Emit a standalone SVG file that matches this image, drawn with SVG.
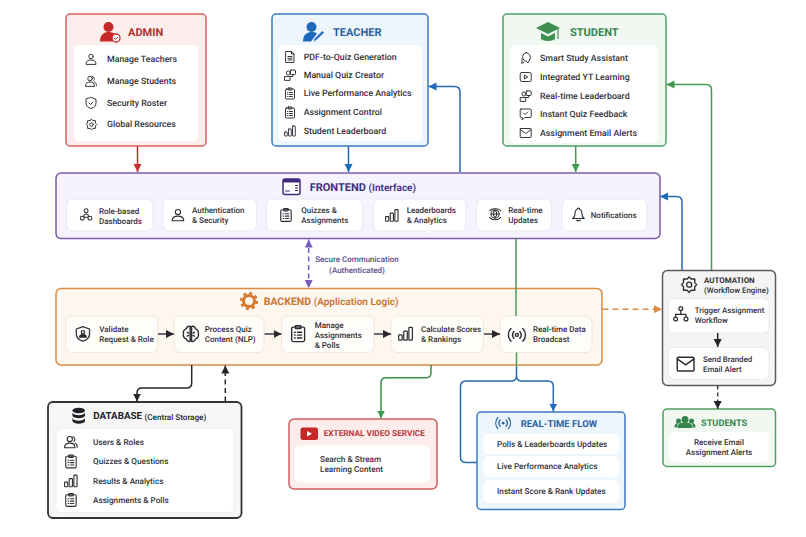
<svg xmlns="http://www.w3.org/2000/svg" width="806" height="537" viewBox="0 0 806 537">
<style>
text{font-family:"Roboto","Noto Sans","Liberation Sans",sans-serif;font-size:8.800px;fill:#2f2f37;dominant-baseline:central;font-weight:500;text-rendering:geometricPrecision;transform:translateY(.8px)}
.t{font-size:11px;font-weight:700}
.s{font-size:8px}
.d{font-size:8.200px}
.sm{font-size:7.900px}
.w{fill:#fff;stroke:none}
.c{fill:#fff;stroke:#ece8f2;stroke-width:1}
.co{fill:#fffdfa;stroke:#f3e6d6;stroke-width:1}
.box{stroke-width:1.500}
.i{fill:none;stroke:#2c2c33;stroke-width:1.900;stroke-linecap:round;stroke-linejoin:round}
.l{fill:none;stroke-width:1.500;stroke-linejoin:round}
</style>
<defs>
<marker id="mr" markerUnits="userSpaceOnUse" markerWidth="10" markerHeight="9" refX="8" refY="4" orient="auto"><path d="M0 0L8 4L0 8Z" fill="#c62f2f"/></marker>
<marker id="mb" markerUnits="userSpaceOnUse" markerWidth="10" markerHeight="9" refX="8" refY="4" orient="auto"><path d="M0 0L8 4L0 8Z" fill="#1f69bb"/></marker>
<marker id="mg" markerUnits="userSpaceOnUse" markerWidth="10" markerHeight="9" refX="8" refY="4" orient="auto"><path d="M0 0L8 4L0 8Z" fill="#3f9b4d"/></marker>
<marker id="mk" markerUnits="userSpaceOnUse" markerWidth="10" markerHeight="9" refX="8" refY="4" orient="auto"><path d="M0 0L8 4L0 8Z" fill="#26262c"/></marker>
<marker id="mo" markerUnits="userSpaceOnUse" markerWidth="10" markerHeight="9" refX="8" refY="4" orient="auto"><path d="M0 0L8 4L0 8Z" fill="#dd8a44"/></marker>
<marker id="mp" markerUnits="userSpaceOnUse" markerWidth="10" markerHeight="9" refX="8" refY="4" orient="auto-start-reverse"><path d="M0 0L8 4L0 8Z" fill="#7a5cc0"/></marker>
<g id="user"><circle cx="12" cy="7" r="4.500" class="i"/><path class="i" d="M2 22c0-6 4-8 10-8s10 2 10 8z"/></g>
<g id="users"><circle cx="10" cy="7" r="4.500" class="i"/><path class="i" d="M1 22c0-6 3-8 9-8s9 2 9 8z"/><path class="i" d="M15 3a4.500 4.500 0 0 1 2 8M19 14c2 1 4 3 4 7"/></g>
<g id="shield"><path class="i" d="M12 1l10 3.500v7.500c0 6-4 9-10 11-6-2-10-5-10-11V4.500z"/><path class="i" d="M8 12l3 3 5-5"/></g>
<g id="gear"><circle cx="12" cy="12" r="3.500" class="i"/><path class="i" d="M12 1.500l2.800 2.700h5v5L22.500 12l-2.700 2.800v5h-5L12 22.500l-2.800-2.700h-5v-5L1.500 12l2.700-2.800v-5h5z"/></g>
<g id="doc"><path class="i" d="M4 1h11l5 5v17H4z"/><path class="i" d="M15 1v5h5M8 11h8M8 14.500h8M8 18h8"/></g>
<g id="clip"><rect x="3" y="3" width="18" height="20" rx="2" class="i"/><rect x="8" y="1" width="8" height="4" rx="1" class="i"/><path class="i" d="M7 10h1M11 10h6M7 14h1M11 14h6M7 18h1M11 18h6"/></g>
<g id="bars"><rect x="1" y="14" width="5.500" height="8" rx="1" class="i"/><rect x="9" y="8" width="5.500" height="14" rx="1" class="i"/><rect x="17" y="2" width="5.500" height="20" rx="1" class="i"/></g>
<g id="quiz"><rect x="13" y="2" width="10" height="9" rx="1.500" class="i"/><circle cx="8.500" cy="8" r="4" class="i"/><path class="i" d="M1 22v-7h11v7zM12 15h6v-4"/></g>
<g id="bulb"><path class="i" d="M13 1a10 10 0 0 1 7 15l-4 6c-1-3-2-4-5-4A9 9 0 0 1 13 1zM5 14l-1 9 5-3"/></g>
<g id="play"><rect x="1" y="3" width="22" height="18" rx="3" class="i"/><path d="M10 8.500l6 3.500-6 3.500z" class="i"/></g>
<g id="chat"><path class="i" d="M3 1h18a2 2 0 0 1 2 2v13a2 2 0 0 1-2 2H10l-5 5v-5H3a2 2 0 0 1-2-2V3a2 2 0 0 1 2-2z"/><path class="i" d="M8 9l3 3 5-5"/></g>
<g id="mail"><rect x="1" y="3" width="22" height="18" rx="1.500" class="i"/><path class="i" d="M1 5l11 8 11-8"/></g>
<g id="team"><circle cx="12" cy="5" r="3.500" class="i"/><path class="i" d="M8 13c0-3 8-3 8 0v4H8zM5 15a3.500 3.500 0 1 0 0 7 3.500 3.500 0 0 0 0-7zM19 15a3.500 3.500 0 1 0 0 7 3.500 3.500 0 0 0 0-7z"/></g>
<g id="globe"><circle cx="12" cy="11" r="7.500" class="i"/><path class="i" d="M5 11h14M12 4c4 4 4 10 0 14M12 4c-4 4-4 10 0 14M2 17c3 5 16 7 20 0M22 5c-2-4-16-6-20 0"/></g>
<g id="bell"><path class="i" d="M12 1a2 2 0 0 1 2 2c3 1 4 4 4 8 0 4 1 6 4 8H2c3-2 4-4 4-8 0-4 1-7 4-8a2 2 0 0 1 2-2zM9 22c1 1 5 1 6 0"/></g>
<g id="badge"><path class="i" d="M12 1l10 3.500v7.500c0 6-4 9-10 11-6-2-10-5-10-11V4.500z"/><circle cx="12" cy="9.500" r="2.500" class="i"/><path class="i" d="M7 17c0-3 2-4 5-4s5 1 5 4z" style="fill:#2c2c33"/></g>
<g id="brain"><path class="i" d="M11 2C7 1 6 4 6 5 3 6 1 9 2 12c-1 3 1 6 4 7 0 2 3 4 5 3zM13 2c4-1 5 2 5 3 3 1 5 4 4 7 1 3-1 6-4 7 0 2-3 4-5 3z"/><path class="i" d="M7 10l2 1M7 15l2-1M17 10l-2 1M17 15l-2-1"/></g>
<g id="cast"><circle cx="12" cy="12" r="2" class="i"/><path class="i" d="M8 7.500a7 7 0 0 0 0 9M16 7.500a7 7 0 0 1 0 9M4 3.500a12 12 0 0 0 0 17M20 3.500a12 12 0 0 1 0 17"/></g>
<g id="flow"><circle cx="12" cy="4" r="3" class="i"/><circle cx="4" cy="20" r="3" class="i"/><circle cx="20" cy="20" r="3" class="i"/><path class="i" d="M12 7v6M4 17v-4h16v4"/></g>
</defs>

<g id="admin">
<rect class="box" x="66" y="14" width="140" height="132" rx="4" fill="#fdeeee" stroke="#d9605c"/>
<rect class="w" x="74" y="45" width="124" height="96" rx="5"/>
<circle cx="108.500" cy="27" r="5" fill="#c62828"/><path d="M100 41.500c0-7 4-9.500 9-9.500 3 0 5 1 6 2.500a6 6 0 0 0-2 7z" fill="#c62828"/><circle cx="116" cy="38" r="4" fill="#fff" stroke="#c62828" stroke-width="1.300"/><path d="M114 38l1.500 1.500 2.500-2.500" fill="none" stroke="#c62828"/>
<text class="t" x="128" y="32" style="fill:#a93131">ADMIN</text>
<use href="#user" transform="translate(85 53) scale(.5)"/><text x="107" y="59">Manage Teachers</text>
<use href="#users" transform="translate(85 75) scale(.5)"/><text x="107" y="81">Manage Students</text>
<use href="#shield" transform="translate(85 97) scale(.5)"/><text x="107" y="103">Security Roster</text>
<use href="#gear" transform="translate(85.500 118.500) scale(.5)"/><text x="107" y="124.500">Global Resources</text>
</g>

<g id="teacher">
<rect class="box" x="272" y="14" width="156" height="132" rx="4" fill="#edf5fd" stroke="#3b7bbf"/>
<rect class="w" x="278" y="45" width="144" height="96" rx="5"/>
<circle cx="311.500" cy="27" r="5" fill="#1f69bb"/><path d="M303 41.500c0-7 4-9.500 9-9.500 2 0 4 .5 5 1.500l-6 8z" fill="#1f69bb"/><path d="M316 40l-2 1.500.3-2.500 8-8 1.800 1.800z" fill="#1f69bb"/>
<text class="t" x="333" y="32" style="fill:#27619f">TEACHER</text>
<use href="#doc" transform="translate(284 51) scale(.5)"/><text x="303.700" y="57">PDF-to-Quiz Generation</text>
<use href="#quiz" transform="translate(284 69) scale(.5)"/><text x="303.700" y="75">Manual Quiz Creator</text>
<use href="#clip" transform="translate(284 87.500) scale(.5)"/><text x="303.700" y="93.500">Live Performance Analytics</text>
<use href="#clip" transform="translate(284 106.500) scale(.5)"/><text x="303.700" y="112.500">Assignment Control</text>
<use href="#bars" transform="translate(284 125) scale(.5)"/><text x="303.700" y="131">Student Leaderboard</text>
</g>

<g id="student">
<rect class="box" x="503" y="14" width="163" height="132" rx="4" fill="#f0f8f1" stroke="#4f9f5f"/>
<rect class="w" x="510" y="45" width="148" height="98" rx="5"/>
<path d="M548 22l12 6-12 6-12-6z" fill="#3f8f50"/><path d="M541 33v6c3 2.500 11 2.500 14 0v-6l-7 3.500z" fill="#3f8f50"/><path d="M558 29v10" stroke="#3f8f50" stroke-width="1.200"/>
<text class="t" x="570" y="32" style="fill:#35864a">STUDENT</text>
<use href="#bulb" transform="translate(519.700 52) scale(.5)"/><text x="540" y="58">Smart Study Assistant</text>
<use href="#play" transform="translate(519.700 71) scale(.5)"/><text x="540" y="77">Integrated YT Learning</text>
<use href="#quiz" transform="translate(519.700 90) scale(.5)"/><text x="540" y="96">Real-time Leaderboard</text>
<use href="#chat" transform="translate(519.700 108.500) scale(.5)"/><text x="540" y="114.500">Instant Quiz Feedback</text>
<use href="#mail" transform="translate(519.700 127) scale(.5)"/><text x="540" y="133.500">Assignment Email Alerts</text>
</g>

<g id="frontend">
<rect class="box" x="56" y="173" width="604" height="65.500" rx="5" fill="#f6f2fe" stroke="#7a5ca8"/>
<rect x="283" y="179" width="17" height="15.500" rx="2" fill="#fff" stroke="#3f2a80" stroke-width="1.500"/><rect x="283" y="179" width="17" height="3.500" fill="#3f2a80"/><path d="M295 185.500h3M295 188h3M295 190.500h3M285 191h5" stroke="#3f2a80"/>
<text class="t" x="309.700" y="187" style="fill:#3f2f7d">FRONTEND <tspan font-size="10" font-weight="600">(Interface)</tspan></text>
<rect class="c" x="66.700" y="199" width="86.300" height="32" rx="6"/><use href="#team" transform="translate(79.500 208) scale(.55)"/><text class="s" x="99" y="210.500">Role-based</text><text class="s" x="99" y="220.500">Dashboards</text>
<rect class="c" x="163" y="199" width="93.500" height="32" rx="6"/><use href="#user" transform="translate(171 208) scale(.58)"/><text class="s" x="192" y="209.500">Authentication</text><text class="s" x="192" y="219.500">&amp; Security</text>
<rect class="c" x="266.500" y="199" width="96" height="32" rx="6"/><use href="#clip" transform="translate(279 208) scale(.58)"/><text class="s" x="301.300" y="209.500">Quizzes &amp;</text><text class="s" x="301.300" y="219.500">Assignments</text>
<rect class="c" x="373.500" y="199" width="92.500" height="32" rx="6"/><use href="#bars" transform="translate(385 208.500) scale(.58)"/><text class="s" x="406.700" y="209.500">Leaderboards</text><text class="s" x="406.700" y="219.500">&amp; Analytics</text>
<path d="M425 231h6l-3 3z" fill="#fff"/>
<rect class="c" x="476.700" y="199" width="74.800" height="32" rx="6"/><use href="#globe" transform="translate(488.500 208) scale(.55)"/><text class="s" x="508.300" y="209.500">Real-time</text><text class="s" x="508.300" y="219.500">Updates</text>
<rect class="c" x="562" y="199" width="85" height="32" rx="6"/><use href="#bell" transform="translate(571.500 207.500) scale(.58)"/><text class="s" x="590.700" y="214.700">Notifications</text>
</g>

<g id="secure-label">
<text x="357" y="259" text-anchor="middle" class="s" style="fill:#5a4a8a">Secure Communication</text>
<text x="357" y="270" text-anchor="middle" class="s" style="fill:#5a4a8a">(Authenticated)</text>
</g>

<g id="backend">
<rect class="box" x="56" y="288.500" width="546" height="76.500" rx="5" fill="#fef7ef" stroke="#dd8a44"/>
<circle cx="249" cy="301" r="5.500" fill="none" stroke="#d9782d" stroke-width="3"/><circle cx="249" cy="301" r="7.800" fill="none" stroke="#d9782d" stroke-width="2.600" stroke-dasharray="3 3.130"/>
<text class="t" x="263.700" y="301" style="font-size:10.500px;fill:#c8752f">BACKEND <tspan font-size="10" font-weight="600">(Application Logic)</tspan></text>
<rect class="co" x="65.700" y="316" width="92" height="36.500" rx="6"/><use href="#badge" transform="translate(75 326) scale(.66)"/><text class="s" x="99.300" y="329">Validate</text><text class="s" x="99.300" y="339">Request &amp; Role</text>
<rect class="co" x="174" y="316" width="90" height="36.500" rx="6"/><use href="#brain" transform="translate(182 325) scale(.74)"/><text class="s" x="204.700" y="329">Process Quiz</text><text class="s" x="204.700" y="339">Content (NLP)</text>
<rect class="co" x="281.500" y="316" width="92.500" height="36.500" rx="6"/><use href="#clip" transform="translate(289.500 325) scale(.72)"/><text class="s" x="314.700" y="325">Manage</text><text class="s" x="314.700" y="335">Assignments</text><text class="s" x="314.700" y="345">&amp; Polls</text>
<rect class="co" x="391" y="316" width="92.500" height="36.500" rx="6"/><use href="#bars" transform="translate(398 326) scale(.64)"/><text class="s" x="421" y="329">Calculate Scores</text><text class="s" x="421" y="339">&amp; Rankings</text>
<rect class="co" x="500" y="316" width="92" height="36.500" rx="6"/><use href="#cast" transform="translate(508 326) scale(.74)"/><text class="s" x="533" y="329">Real-time Data</text><text class="s" x="533" y="339">Broadcast</text>
</g>

<g id="automation">
<rect class="box" x="662.500" y="270.500" width="113" height="115" rx="5" fill="#f4f4f4" stroke="#5a5a5f"/>
<use href="#gear" transform="translate(680.500 276) scale(.72)"/>
<text class="sm" x="704" y="280" style="font-weight:700">AUTOMATION</text><text class="sm" x="704" y="290">(Workflow Engine)</text>
<rect class="c" x="668" y="298.700" width="101" height="34.300" rx="6"/><use href="#flow" transform="translate(673 306) scale(.65)"/><text class="sm" x="694.700" y="310">Trigger Assignment</text><text class="sm" x="694.700" y="320">Workflow</text>
<rect class="c" x="668" y="347.500" width="101" height="32" rx="6"/><use href="#mail" transform="translate(676.500 355) scale(.76)"/><text class="sm" x="703" y="359">Send Branded</text><text class="sm" x="703" y="369">Email Alert</text>
</g>

<g id="students">
<rect class="box" x="663" y="409" width="112.500" height="57.500" rx="4" fill="#f0f8f1" stroke="#4f9f5f"/>
<rect class="w" x="669" y="432" width="100" height="30" rx="5"/>
<circle cx="685" cy="419.500" r="3.500" fill="#35864a"/><circle cx="678.500" cy="421" r="2.500" fill="#35864a"/><circle cx="691.500" cy="421" r="2.500" fill="#35864a"/><path d="M677.500 428c0-4.500 3-5.500 7.500-5.500s7.500 1 7.500 5.500zM674.500 427.500c0-3 1-4.500 3.500-4.500l-1 4.500zM695.500 427.500c0-3-1-4.500-3.500-4.500l1 4.500z" fill="#35864a"/>
<text class="t" x="701" y="423" style="font-size:9.200px;fill:#35864a">STUDENTS</text>
<text class="s" x="719" y="441.500" text-anchor="middle">Receive Email</text><text class="s" x="719" y="452" text-anchor="middle">Assignment Alerts</text>
</g>

<g id="realtime-flow">
<rect class="box" x="477" y="412" width="148" height="97.500" rx="4" fill="#edf5fd" stroke="#3b7bbf"/>
<rect class="w" x="483" y="434" width="136" height="20" rx="5"/><rect class="w" x="483" y="456" width="136" height="21" rx="5"/><rect class="w" x="483" y="480" width="136" height="23" rx="5"/>
<g transform="translate(494.500 414.500) scale(.72)"><circle cx="12" cy="12" r="2" fill="#27619f"/><path fill="none" stroke="#27619f" stroke-width="1.800" stroke-linecap="round" d="M8 7.500a7 7 0 0 0 0 9M16 7.500a7 7 0 0 1 0 9M4.500 4.500a12 12 0 0 0 0 15M19.500 4.500a12 12 0 0 1 0 15"/></g>
<text class="t" x="520.700" y="424" style="font-size:9.500px;fill:#27619f">REAL-TIME FLOW</text>
<text class="d" x="497" y="444">Polls &amp; Leaderboards Updates</text>
<text class="d" x="497" y="466.500">Live Performance Analytics</text>
<text class="d" x="497" y="491">Instant Score &amp; Rank Updates</text>
</g>

<g id="database">
<rect x="48" y="402" width="193.500" height="116" rx="5" fill="#f6f6f6" stroke="#333338" stroke-width="1.800"/>
<rect class="w" x="56" y="428.500" width="178" height="84" rx="5" style="stroke:#ececec;stroke-width:.8"/>
<g fill="#1f1f24"><ellipse cx="78.700" cy="410.500" rx="6.300" ry="2.800"/><path d="M72.400 412.500c1 3.500 11.600 3.500 12.600 0v3c-1 3.500-11.600 3.500-12.600 0zM72.400 418c1 3.500 11.600 3.500 12.600 0v3c-1 3.500-11.600 3.500-12.600 0z"/></g>
<text class="t" x="93.300" y="416" style="fill:#222228;font-size:9.800px">DATABASE <tspan font-size="8.100" font-weight="500">(Central Storage)</tspan></text>
<use href="#users" transform="translate(64 435) scale(.58)"/><text class="d" x="93" y="442">Users &amp; Roles</text>
<use href="#clip" transform="translate(64 454.500) scale(.58)"/><text class="d" x="93" y="461.500">Quizzes &amp; Questions</text>
<use href="#bars" transform="translate(64 474) scale(.58)"/><text class="d" x="93" y="481">Results &amp; Analytics</text>
<use href="#clip" transform="translate(64 493) scale(.58)"/><text class="d" x="93" y="500">Assignments &amp; Polls</text>
</g>

<g id="external-video">
<rect class="box" x="289" y="419" width="148" height="70" rx="5" fill="#fcecec" stroke="#cf5f5f"/>
<rect class="w" x="295" y="445.500" width="135" height="37" rx="5"/>
<rect x="300.500" y="427.500" width="17.500" height="12.500" rx="2.500" fill="#c62828"/><path d="M307 431l5 2.700-5 2.700z" fill="#fff"/>
<text class="t" x="323.700" y="433.500" style="font-size:8.250px;fill:#b93b3b">EXTERNAL VIDEO SERVICE</text>
<text class="d" x="320" y="459">Search &amp; Stream</text><text class="d" x="320" y="469">Learning Content</text>
</g>

<g id="connectors">
<path class="l" stroke="#c62f2f" marker-end="url(#mr)" d="M137.500 146V172"/>
<path class="l" stroke="#2a66b0" marker-end="url(#mb)" d="M348.500 146V172"/>
<path class="l" stroke="#3f9b4d" marker-end="url(#mg)" d="M575.700 146V172"/>
<path class="l" stroke="#2a66b0" marker-end="url(#mb)" d="M460 172V92q0-5.500-5.500-5.500H428.500"/>
<path class="l" stroke="#3f9b4d" marker-end="url(#mg)" d="M711.500 270V90q0-5.500-5.500-5.500H666.500"/>
<path class="l" stroke="#2a66b0" marker-end="url(#mb)" d="M682 270V202q0-5.500-5.500-5.500H660"/>
<path class="l" stroke="#7a5cc0" stroke-dasharray="5 3.500" marker-start="url(#mp)" marker-end="url(#mp)" d="M308.700 239.500V288"/>
<path class="l" stroke="#4f9a5a" d="M516 238.500V316M516.500 352.500V367"/>
<path class="l" stroke="#2a66b0" d="M516.500 367V376q0 4.500-4.500 5H466q-5.500 0-5.500 5.500V457q0 5.500 5.500 5.500H477"/>
<path class="l" stroke="#2a66b0" marker-end="url(#mb)" d="M516.500 376q0 4.500 4.500 5H548q5.300 0 5.300 5.500V411.500"/>
<path class="l" stroke="#3b8f46" marker-end="url(#mg)" d="M431 365V373q0 4.700-4.700 4.700H386q-5 0-5 5V418.500"/>
<path class="l" stroke="#26262c" marker-end="url(#mk)" d="M191.700 365V383q0 5-5 5H142q-5 0-5 5V401.500"/>
<path class="l" stroke="#26262c" stroke-dasharray="5 3.500" marker-end="url(#mk)" d="M225.300 401.500V365.500"/>
<path class="l" stroke="#dd8a44" stroke-dasharray="6 4" marker-end="url(#mo)" d="M602.500 309.300H662"/>
<path class="l" stroke="#3a3a40" stroke-dasharray="4 3" marker-end="url(#mk)" d="M717.700 385.500V409"/>
<path class="l" stroke="#26262c" marker-end="url(#mk)" d="M717.700 333V347"/>
<path class="l" stroke="#3a3a40" marker-end="url(#mk)" d="M158 334H174"/>
<path class="l" stroke="#3a3a40" marker-end="url(#mk)" d="M264.500 334H281.500"/>
<path class="l" stroke="#3a3a40" marker-end="url(#mk)" d="M374 334H391"/>
<path class="l" stroke="#3a3a40" marker-end="url(#mk)" d="M484 334H500"/>
</g>
</svg>
